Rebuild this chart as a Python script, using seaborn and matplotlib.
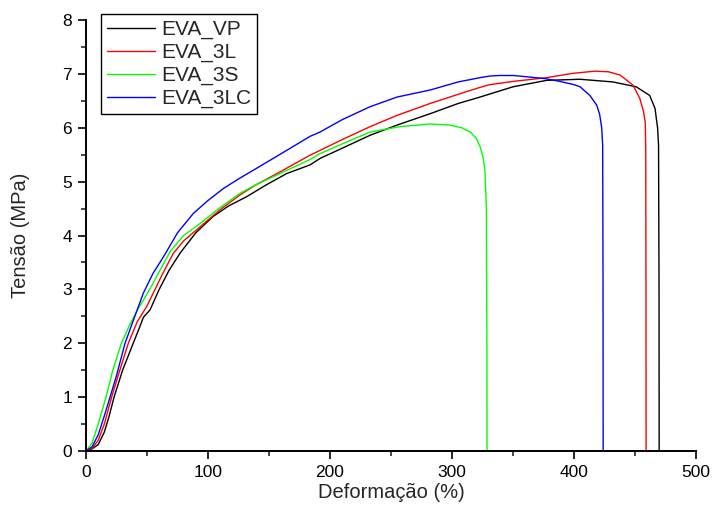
import numpy as np
import pandas as pd
import matplotlib
matplotlib.use("Agg")
import matplotlib.pyplot as plt
from matplotlib.ticker import MultipleLocator
import seaborn as sns

# EVA_VP (black)
vp_x = [0, 5, 10, 15, 19, 23, 30, 38.7, 44, 47, 52.5, 60, 68, 77, 90, 104, 117, 131.7, 147, 164.5,
        183.6, 191.8, 210, 232.8, 255, 282, 305, 323, 350, 377.6, 405, 432, 451, 462, 466.4, 468.5,
        469.3, 469.7, 469.8]
vp_y = [0, 0.04, 0.12, 0.35, 0.65, 1.0, 1.5, 2.0, 2.3, 2.48, 2.62, 3.0, 3.35, 3.67, 4.05, 4.35, 4.55,
        4.72, 4.93, 5.15, 5.31, 5.43, 5.62, 5.86, 6.05, 6.26, 6.45, 6.57, 6.76, 6.88, 6.90, 6.85, 6.76,
        6.60, 6.36, 6.0, 5.68, 3.0, 0]

# EVA_3L (red)
l_x = [0, 5, 10, 15, 21, 27, 34.7, 42, 49.7, 56.6, 63, 71.6, 80, 93.4, 110, 126, 140, 159, 183.6,
       191.8, 210, 232.8, 255, 282, 305, 323, 331, 350, 377.6, 399, 417, 428, 437.7, 448.4, 454, 457,
       458.4, 458.8, 459, 459.1]
l_y = [0, 0.05, 0.2, 0.5, 1.0, 1.45, 2.0, 2.4, 2.68, 3.0, 3.3, 3.67, 3.9, 4.16, 4.48, 4.75, 4.95, 5.18,
       5.49, 5.58, 5.78, 6.02, 6.23, 6.45, 6.62, 6.75, 6.80, 6.86, 6.93, 7.01, 7.05, 7.04, 6.98, 6.79,
       6.54, 6.3, 6.1, 5.6, 3.0, 0]

# EVA_3S (green)
s_x = [0, 5, 10, 16.4, 22, 29, 36, 43, 49.7, 57, 68.9, 80, 93.4, 110, 126, 140, 159, 183.6, 191.8,
       210, 232.8, 257, 282, 298, 308, 315, 320, 323, 325.5, 327, 328.2, 328.6, 328.7]
s_y = [0, 0.15, 0.5, 1.0, 1.5, 2.0, 2.35, 2.65, 2.9, 3.2, 3.70, 4.0, 4.22, 4.52, 4.78, 4.95, 5.15, 5.41,
       5.52, 5.7, 5.92, 6.02, 6.07, 6.05, 6.0, 5.92, 5.8, 5.65, 5.45, 5.21, 4.5, 2.0, 0]

# EVA_3LC (blue)
lc_x = [0, 5, 10, 15, 19.7, 25, 32, 40, 47, 55, 63.4, 75, 88, 100, 112.5, 125, 140, 164.5, 183.6,
        191.8, 210, 232.8, 255, 282, 305, 323, 331, 339, 350, 364, 377, 388.5, 400, 405, 413, 418.6,
        421, 422.7, 423.5, 423.8, 423.9]
lc_y = [0, 0.08, 0.3, 0.65, 1.0, 1.4, 2.0, 2.5, 2.93, 3.3, 3.6, 4.05, 4.41, 4.65, 4.87, 5.05, 5.25,
        5.58, 5.84, 5.92, 6.15, 6.39, 6.57, 6.70, 6.85, 6.93, 6.96, 6.97, 6.97, 6.94, 6.91, 6.86, 6.80,
        6.76, 6.60, 6.42, 6.25, 6.0, 5.68, 3.0, 0]

labels = ["EVA_VP", "EVA_3L", "EVA_3S", "EVA_3LC"]
series = [(vp_x, vp_y), (l_x, l_y), (s_x, s_y), (lc_x, lc_y)]
colors = {"EVA_VP": "#000000", "EVA_3L": "#FF0000", "EVA_3S": "#00FF00", "EVA_3LC": "#0000FF"}

frames = []
for lab, (xs, ys) in zip(labels, series):
    frames.append(pd.DataFrame({"x": xs, "y": ys, "amostra": lab}))
df = pd.concat(frames, ignore_index=True)

sns.set_style("ticks")
plt.rcParams["font.family"] = ["Liberation Sans", "DejaVu Sans"]

fig = plt.figure(figsize=(7.13, 5.14), dpi=100)
ax = fig.add_axes([86 / 713, 1 - 451 / 514, 610 / 713, 431 / 514])

sns.lineplot(data=df, x="x", y="y", hue="amostra", hue_order=labels, palette=colors,
             sort=False, estimator=None, units="amostra", linewidth=1.0, ax=ax, legend=True)

ax.set_xlim(0, 500)
ax.set_ylim(0, 8)
ax.xaxis.set_major_locator(MultipleLocator(100))
ax.xaxis.set_minor_locator(MultipleLocator(50))
ax.yaxis.set_major_locator(MultipleLocator(1))
ax.yaxis.set_minor_locator(MultipleLocator(0.5))
ax.tick_params(which="major", direction="out", length=6, width=1.2, labelsize=12.5,
               colors="black", pad=4)
ax.tick_params(which="minor", direction="out", length=3.5, width=1.2)
for side in ["top", "right"]:
    ax.spines[side].set_visible(False)
for side in ["left", "bottom"]:
    ax.spines[side].set_linewidth(1.4)
    ax.spines[side].set_color("black")

ax.set_xlabel("Deformação (%)", fontsize=14.5, labelpad=2)
ax.set_ylabel("Tensão (MPa)", fontsize=14.5, labelpad=23)

leg = ax.legend(loc="upper left", bbox_to_anchor=(0.0246, 1.014), borderaxespad=0,
                fontsize=15, frameon=True, fancybox=False, handlelength=2.3,
                handletextpad=0.3, labelspacing=0.18, borderpad=0.28)
leg.get_frame().set_edgecolor("black")
leg.get_frame().set_linewidth(1.0)
leg.get_frame().set_alpha(1)

fig.savefig("out.png", dpi=100)
